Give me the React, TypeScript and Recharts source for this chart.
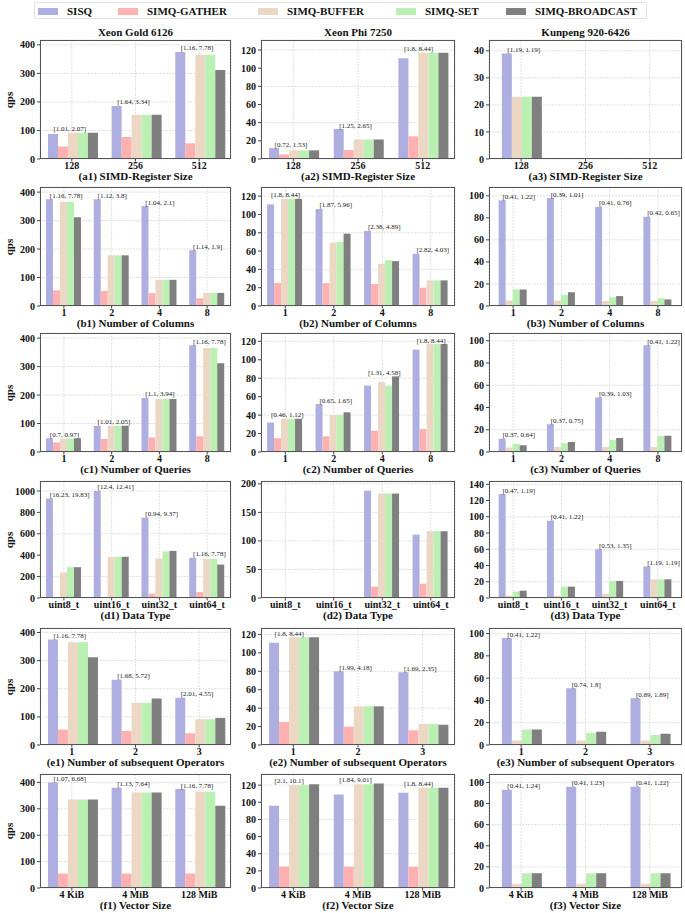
import { BarChart, Bar, XAxis, YAxis, CartesianGrid, LabelList } from "recharts";

const SERIES = ["SISQ", "SIMQ-GATHER", "SIMQ-BUFFER", "SIMQ-SET", "SIMQ-BROADCAST"];
const COLORS = ["#aeaee0", "#ffb0b0", "#ebd7c3", "#bbf0b3", "#7f7f7f"];
const CPUS = ["Xeon Gold 6126", "Xeon Phi 7250", "Kunpeng 920-6426"];

// categories
const regSizes = ["128", "256", "512"];
const columnCounts = ["1", "2", "4", "8"];
const queryCounts = ["1", "2", "4", "8"];
const dataTypes = ["uint8_t", "uint16_t", "uint32_t", "uint64_t"];
const operatorCounts = ["1", "2", "3"];
const vectorSizes = ["4 KiB", "4 MiB", "128 MiB"];

// y ticks
const ticks400 = [0, 50, 100, 150, 200, 250, 300, 350, 400];
const ticks120 = [0, 20, 40, 60, 80, 100, 120];
const ticks100 = [0, 20, 40, 60, 80, 100];
const ticks40 = [0, 5, 10, 15, 20, 25, 30, 35, 40];
const ticks1000 = [0, 200, 400, 600, 800, 1000];
const ticks200 = [0, 25, 50, 75, 100, 125, 150, 175, 200];
const ticks140 = [0, 20, 40, 60, 80, 100, 120, 140];

// values per category: [SISQ, GATHER, BUFFER, SET, BROADCAST]
const a1Values = [[88, 44, 92, 92, 92], [186, 77, 155, 155, 155], [375, 55, 365, 365, 312]];
const a2Values = [[12, 5, 9.5, 9.5, 9.5], [33, 10, 21.5, 21.5, 21.5], [111, 25, 117, 117, 117]];
const a3Values = [[39, null, 23, 23, 23], [null, null, null, null, null], [null, null, null, null, null]];
const b1Values = [[375, 55, 365, 365, 312], [375, 53, 178, 178, 178], [351, 45, 92, 92, 92], [196, 27, 46, 46, 46]];
const b2Values = [[111, 25, 117, 117, 117], [106, 25, 69, 70, 79], [82, 24, 46, 50, 49], [57, 20, 28, 28, 28]];
const b3Values = [[96, null, 5, 15, 15], [98, null, 5, 10, 12.5], [90, null, 4.5, 8, 9], [81, null, 4.5, 7, 6]];
const c1Values = [[48, 33, 47, 47, 48], [91, 46, 92, 92, 92], [190, 51, 186, 186, 186], [375, 55, 365, 365, 312]];
const c2Values = [[32, 15, 36, 36, 36], [52, 17, 40, 40, 43], [72, 23, 76, 72, 82], [111, 25, 117, 117, 117]];
const c3Values = [[12, null, 4, 7.5, 6], [25, null, 4.5, 8, 9], [49, null, 4.5, 11, 12.5], [96, null, 4.5, 14.5, 14.5]];
const d1Values = [[930, null, 238, 288, 288], [1000, null, 385, 385, 385], [750, 40, 370, 435, 440], [375, 55, 365, 365, 312]];
const d2Values = [[null, null, null, null, null], [null, null, null, null, null], [188, 20, 183, 183, 183], [111, 25, 117, 117, 117]];
const d3Values = [[128, null, 3, 8, 9], [95, null, 3, 14, 14], [60, null, 5, 21, 21], [39, null, 23, 23, 23]];
const e1Values = [[375, 55, 365, 365, 312], [232, 50, 150, 150, 165], [168, 42, 92, 92, 96]];
const e2Values = [[111, 25, 117, 117, 117], [80, 20, 42, 42, 42], [79, 16, 23, 23, 22]];
const e3Values = [[96, null, 4, 14, 14], [51, null, 4, 11, 12], [42, null, 4, 9, 10]];
const f1Values = [[400, 55, 335, 335, 335], [380, 55, 362, 362, 362], [375, 55, 365, 365, 312]];
const f2Values = [[96, 25, 120, 120, 121], [109, 25, 121, 121, 122], [111, 25, 117, 117, 117]];
const f3Values = [[93, null, 4, 14, 14], [96, null, 4, 14, 14], [96, null, 4, 14, 14]];

// speedup ranges printed above each group
const a1Notes = ["[1.01, 2.07]", "[1.64, 3.34]", "[1.16, 7.78]"];
const a2Notes = ["[0.72, 1.53]", "[1.25, 2.65]", "[1.8, 8.44]"];
const a3Notes = ["[1.19, 1.19]", "", ""];
const b1Notes = ["[1.16, 7.78]", "[1.12, 3.8]", "[1.04, 2.1]", "[1.14, 1.9]"];
const b2Notes = ["[1.8, 8.44]", "[1.87, 5.96]", "[2.38, 4.89]", "[2.82, 4.03]"];
const b3Notes = ["[0.41, 1.22]", "[0.39, 1.01]", "[0.41, 0.76]", "[0.42, 0.65]"];
const c1Notes = ["[0.7, 0.97]", "[1.01, 2.05]", "[1.1, 3.94]", "[1.16, 7.78]"];
const c2Notes = ["[0.46, 1.12]", "[0.65, 1.65]", "[1.31, 4.58]", "[1.8, 8.44]"];
const c3Notes = ["[0.37, 0.64]", "[0.37, 0.75]", "[0.39, 1.03]", "[0.41, 1.22]"];
const d1Notes = ["[16.23, 19.83]", "[12.4, 12.41]", "[0.94, 9.37]", "[1.16, 7.78]"];
const d2Notes = ["", "", "[1.68, 15.54]", "[1.8, 8.44]"];
const d3Notes = ["[0.47, 1.19]", "[0.41, 1.22]", "[0.53, 1.35]", "[1.19, 1.19]"];
const e1Notes = ["[1.16, 7.78]", "[1.68, 5.72]", "[2.01, 4.55]"];
const e2Notes = ["[1.8, 8.44]", "[1.99, 4.18]", "[1.69, 2.35]"];
const e3Notes = ["[0.41, 1.22]", "[0.74, 1.8]", "[0.89, 1.89]"];
const f1Notes = ["[1.07, 6.68]", "[1.13, 7.64]", "[1.16, 7.78]"];
const f2Notes = ["[2.1, 10.1]", "[1.84, 9.01]", "[1.8, 8.44]"];
const f3Notes = ["[0.41, 1.24]", "[0.41, 1.23]", "[0.41, 1.22]"];

const PANELS = [
  { label: "(a1) SIMD-Register Size", row: 0, col: 0, cats: regSizes, values: a1Values, notes: a1Notes, ticks: ticks400, top: 417 },
  { label: "(a2) SIMD-Register Size", row: 0, col: 1, cats: regSizes, values: a2Values, notes: a2Notes, ticks: ticks120, top: 131 },
  { label: "(a3) SIMD-Register Size", row: 0, col: 2, cats: regSizes, values: a3Values, notes: a3Notes, ticks: ticks40, top: 44 },
  { label: "(b1) Number of Columns", row: 1, col: 0, cats: columnCounts, values: b1Values, notes: b1Notes, ticks: ticks400, top: 418 },
  { label: "(b2) Number of Columns", row: 1, col: 1, cats: columnCounts, values: b2Values, notes: b2Notes, ticks: ticks120, top: 130 },
  { label: "(b3) Number of Columns", row: 1, col: 2, cats: columnCounts, values: b3Values, notes: b3Notes, ticks: ticks100, top: 108 },
  { label: "(c1) Number of Queries", row: 2, col: 0, cats: queryCounts, values: c1Values, notes: c1Notes, ticks: ticks400, top: 418 },
  { label: "(c2) Number of Queries", row: 2, col: 1, cats: queryCounts, values: c2Values, notes: c2Notes, ticks: ticks120, top: 129 },
  { label: "(c3) Number of Queries", row: 2, col: 2, cats: queryCounts, values: c3Values, notes: c3Notes, ticks: ticks100, top: 107 },
  { label: "(d1) Data Type", row: 3, col: 0, cats: dataTypes, values: d1Values, notes: d1Notes, ticks: ticks1000, top: 1093 },
  { label: "(d2) Data Type", row: 3, col: 1, cats: dataTypes, values: d2Values, notes: d2Notes, ticks: ticks200, top: 205 },
  { label: "(d3) Data Type", row: 3, col: 2, cats: dataTypes, values: d3Values, notes: d3Notes, ticks: ticks140, top: 144 },
  { label: "(e1) Number of subsequent Operators", row: 4, col: 0, cats: operatorCounts, values: e1Values, notes: e1Notes, ticks: ticks400, top: 416 },
  { label: "(e2) Number of subsequent Operators", row: 4, col: 1, cats: operatorCounts, values: e2Values, notes: e2Notes, ticks: ticks120, top: 127 },
  { label: "(e3) Number of subsequent Operators", row: 4, col: 2, cats: operatorCounts, values: e3Values, notes: e3Notes, ticks: ticks100, top: 105 },
  { label: "(f1) Vector Size", row: 5, col: 0, cats: vectorSizes, values: f1Values, notes: f1Notes, ticks: ticks400, top: 432 },
  { label: "(f2) Vector Size", row: 5, col: 1, cats: vectorSizes, values: f2Values, notes: f2Notes, ticks: ticks120, top: 133 },
  { label: "(f3) Vector Size", row: 5, col: 2, cats: vectorSizes, values: f3Values, notes: f3Notes, ticks: ticks100, top: 108 },
];

const COL_LEFT = [40, 261, 489];
const COL_RIGHT = [231, 455, 682];
const ROW_TOP = [40, 187, 333, 481, 628, 774];
const ROW_BOTTOM = [159, 306, 452, 598, 745, 888];

const FONT = "'Liberation Serif', 'Times New Roman', serif";
const YW = 36;
const MT = 8;
const MR = 4;
const XH = 14;

const noteContent = (rows: any[]) => (props: any) => {
  const row = rows[props.index];
  if (!row || !row.note || !row.s0) return null;
  const x = Number(props.x);
  const y = Number(props.y);
  const w = Number(props.width);
  const h = Number(props.height);
  const vals = [row.s0, row.s1, row.s2, row.s3, row.s4].filter((v) => v != null);
  const max = Math.max(...vals);
  const yTop = y + h - (max * h) / row.s0;
  return (
    <text x={x + w * 0.55} y={yTop - 1.5} fontSize={7} fontFamily={FONT} fill="#222">
      {row.note}
    </text>
  );
};

function Panel({ p }: { p: any }) {
  const left = COL_LEFT[p.col];
  const fw = COL_RIGHT[p.col] - left;
  const top = ROW_TOP[p.row];
  const fh = ROW_BOTTOM[p.row] - top;
  const kunpeng = p.col === 2;
  const idx = kunpeng ? [0, 2, 3, 4] : [0, 1, 2, 3, 4];
  const rows = p.cats.map((c: string, i: number) => ({
    cat: c,
    s0: p.values[i][0],
    s1: p.values[i][1],
    s2: p.values[i][2],
    s3: p.values[i][3],
    s4: p.values[i][4],
    note: p.notes[i],
  }));
  const tickStyle = { fontSize: 10, fontFamily: FONT, fontWeight: "bold", fill: "#111" };

  return (
    <>
      <div style={{ position: "absolute", left: left - YW, top: top - MT }}>
        <BarChart
          width={fw + YW + MR}
          height={fh + MT + XH}
          data={rows}
          margin={{ top: MT, right: MR, left: 0, bottom: 0 }}
          barCategoryGap={kunpeng ? "20%" : "12.5%"}
          barGap={0}
        >
          <CartesianGrid stroke="#d4d4d4" strokeDasharray="2 1" strokeWidth={0.7} />
          <XAxis
            dataKey="cat"
            height={XH}
            interval={0}
            axisLine={false}
            tickSize={2.5}
            tickMargin={0}
            tickLine={{ stroke: "#444" }}
            tick={tickStyle}
          />
          <YAxis
            width={YW}
            type="number"
            domain={[0, p.top]}
            ticks={p.ticks}
            allowDataOverflow
            axisLine={false}
            tickSize={3}
            tickMargin={2}
            tickLine={{ stroke: "#444" }}
            tick={tickStyle}
          />
          {idx.map((k) => (
            <Bar key={k} dataKey={`s${k}`} name={SERIES[k]} fill={COLORS[k]} isAnimationActive={false}>
              {k === 0 && <LabelList dataKey="s0" content={noteContent(rows)} />}
            </Bar>
          ))}
        </BarChart>
      </div>
      <div
        style={{
          position: "absolute",
          left: left,
          top: top,
          width: fw,
          height: fh,
          border: "1px solid #555",
          boxSizing: "border-box",
          pointerEvents: "none",
        }}
      />
      <div
        style={{
          position: "absolute",
          left: left - 40,
          width: fw + 80,
          top: ROW_BOTTOM[p.row] + 12,
          textAlign: "center",
          fontFamily: FONT,
          fontWeight: "bold",
          fontSize: 11,
          lineHeight: "11px",
          color: "#111",
          whiteSpace: "nowrap",
        }}
      >
        {p.label}
      </div>
      {p.col === 0 && (
        <div
          style={{
            position: "absolute",
            left: 9,
            top: top + fh / 2,
            transform: "translate(-50%, -50%) rotate(-90deg)",
            fontFamily: FONT,
            fontWeight: "bold",
            fontSize: 11,
            color: "#111",
          }}
        >
          qps
        </div>
      )}
    </>
  );
}

const LEGEND_X = [3, 83, 223, 361, 471];

export default function App() {
  return (
    <div style={{ position: "absolute", left: 0, top: 0, width: 685, height: 913, background: "#fff", overflow: "hidden" }}>
      <div
        style={{
          position: "absolute",
          left: 34,
          top: 2,
          width: 613,
          height: 17,
          border: "1px solid #e2e2e2",
          borderRadius: 2,
          boxSizing: "border-box",
        }}
      >
        {SERIES.map((s, i) => (
          <div key={s} style={{ position: "absolute", left: LEGEND_X[i], top: 1, height: 14, display: "flex", alignItems: "center" }}>
            <span style={{ display: "inline-block", width: 20, height: 7, background: COLORS[i] }} />
            <span
              style={{
                marginLeft: 9,
                fontFamily: FONT,
                fontWeight: "bold",
                fontSize: 11,
                lineHeight: "14px",
                color: "#111",
              }}
            >
              {s}
            </span>
          </div>
        ))}
      </div>
      {CPUS.map((c, i) => (
        <div
          key={c}
          style={{
            position: "absolute",
            left: COL_LEFT[i],
            width: COL_RIGHT[i] - COL_LEFT[i],
            top: 27,
            textAlign: "center",
            fontFamily: FONT,
            fontWeight: "bold",
            fontSize: 11,
            lineHeight: "11px",
            color: "#111",
          }}
        >
          {c}
        </div>
      ))}
      {PANELS.map((p) => (
        <Panel key={p.label} p={p} />
      ))}
    </div>
  );
}
